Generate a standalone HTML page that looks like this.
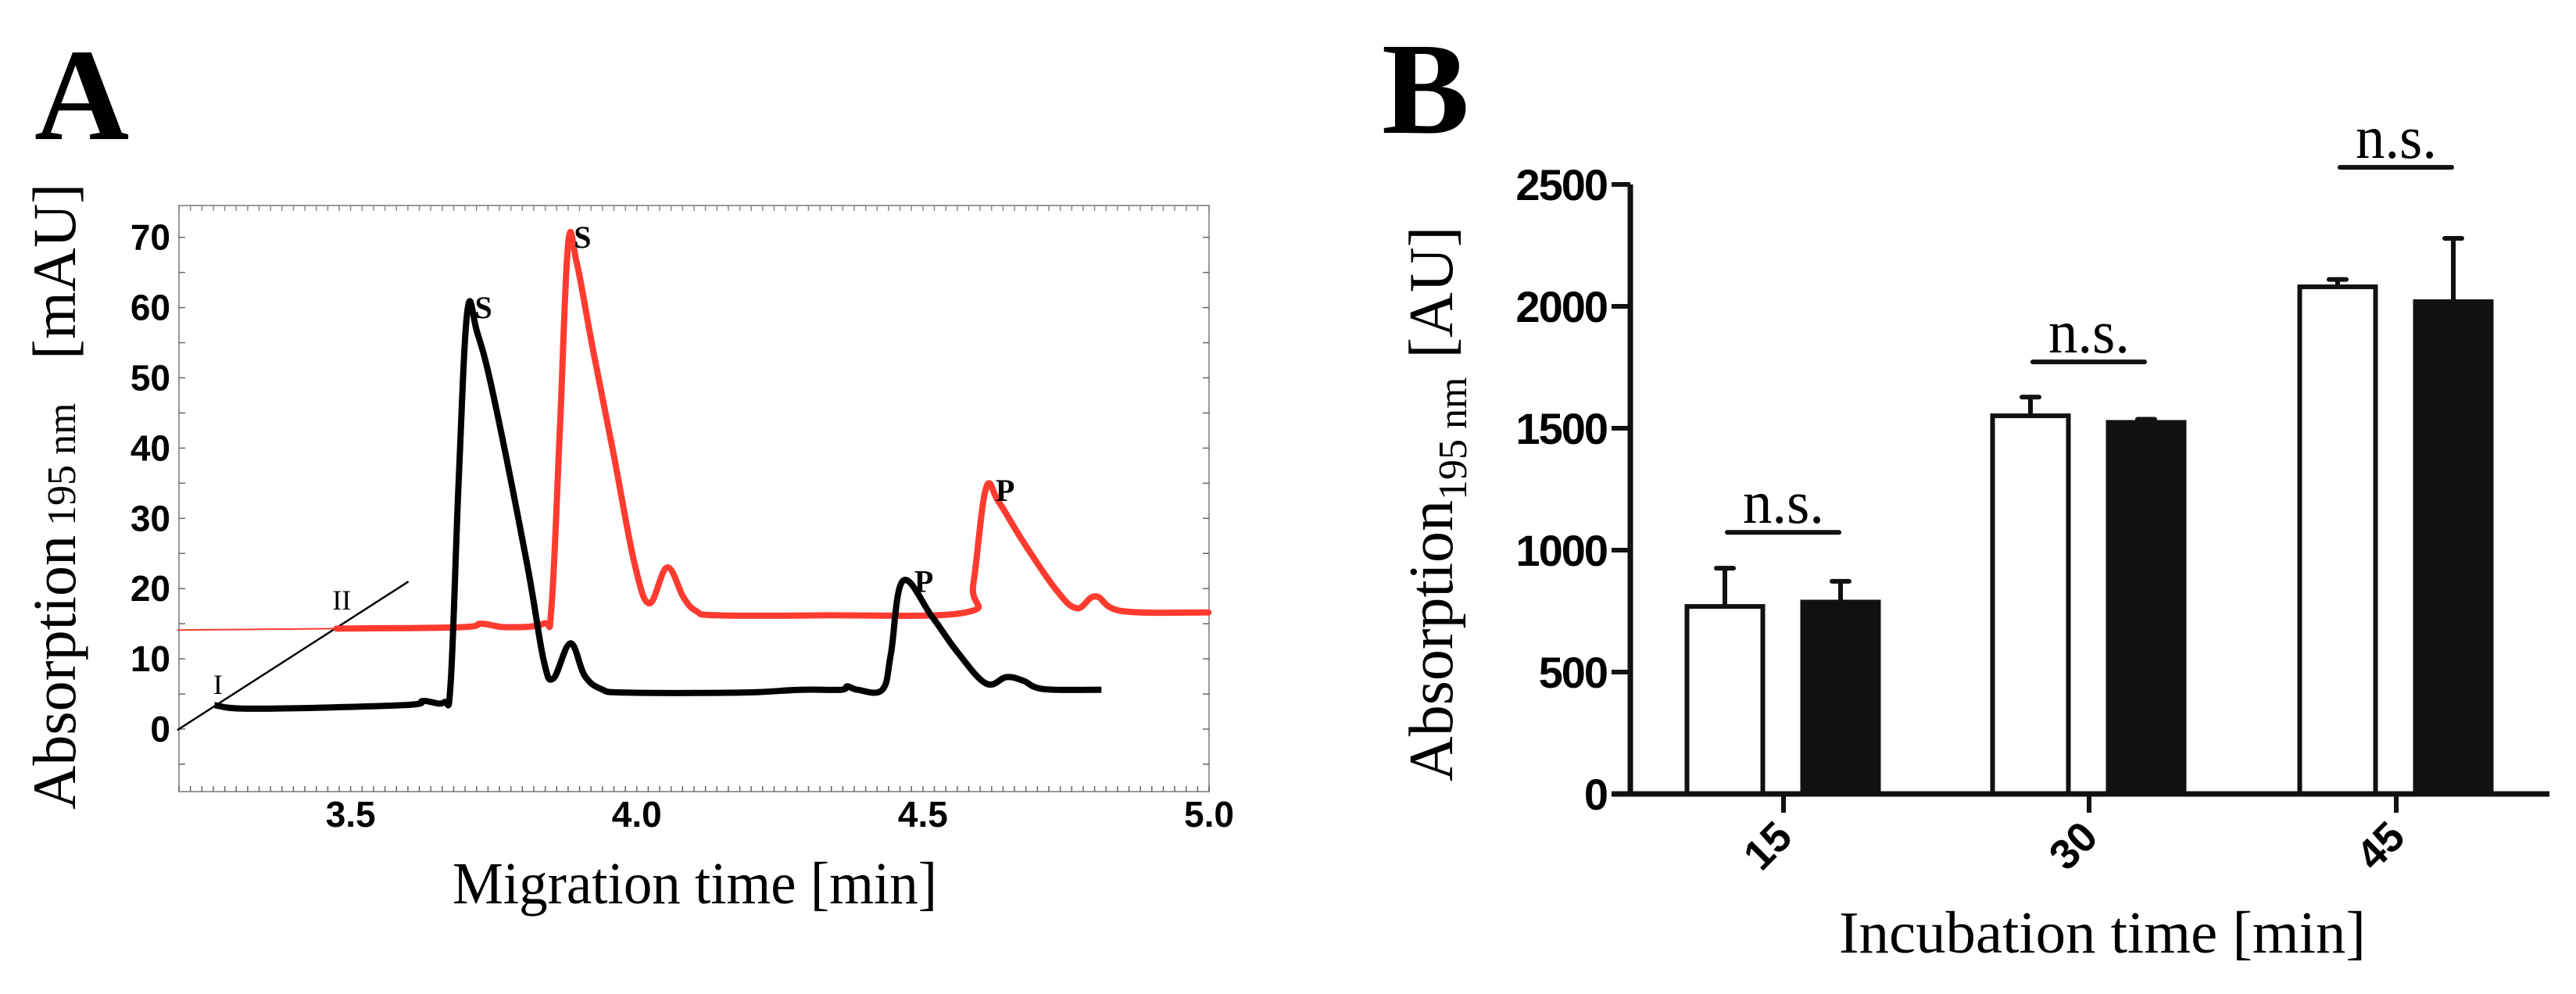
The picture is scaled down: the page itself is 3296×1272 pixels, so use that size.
<!DOCTYPE html>
<html><head><meta charset="utf-8"><style>
html,body{margin:0;padding:0;background:#fff;}
svg{display:block;}
</style></head><body>
<svg id="fig" width="3296" height="1272" viewBox="0 0 3296 1272" xmlns="http://www.w3.org/2000/svg">
<rect x="0" y="0" width="3296" height="1272" fill="#fff"/>
<text x="44" y="178" font-family="Liberation Serif, serif" font-weight="bold" font-size="168">A</text>
<text x="1768" y="170" font-family="Liberation Serif, serif" font-weight="bold" font-size="168">B</text>
<g id="pa"></g>
<g id="pb"></g>
</svg>
<script>
// ---------- Panel A data ----------
const blackT = [3.262,3.331,3.591,3.627,3.663,3.675,3.689,3.704,3.721,3.75,3.808,3.837,3.854,3.884,3.909,3.938,3.981,4.184,4.285,4.357,4.368,4.386,4.429,4.444,4.465,4.516,4.559,4.61,4.646,4.675,4.711,4.812];
const blackV = [3.4,2.9,3.4,4.0,3.8,6.9,35.9,59.5,56.5,47.3,23.6,9.9,7.2,12.2,7.6,5.7,5.2,5.2,5.6,5.6,6.1,5.6,5.6,10.7,21.1,16.0,11.1,6.5,7.4,6.9,5.7,5.6];
const redT = [3.475,3.692,3.728,3.772,3.837,3.851,3.866,3.88,3.895,3.923,3.96,3.996,4.022,4.053,4.082,4.104,4.14,4.328,4.574,4.588,4.61,4.632,4.675,4.733,4.769,4.802,4.848,4.999];
const redV = [14.3,14.5,15.0,14.5,15.0,17.5,43.5,69.0,66.4,54.2,38.9,23.6,17.9,23.0,18.7,16.8,16.2,16.2,16.6,20.6,34.2,32.4,26.7,19.8,17.2,18.9,16.8,16.6];
const redLeadT = [3.197,3.475];
const redLeadV = [14.1,14.3];
const diagT = [3.197,3.601];
const diagV = [-0.15,21];
const aXTicks = [3.5,4.0,4.5,5.0];
const aXTickLabels = ["3.5","4.0","4.5","5.0"];
const aYTicks = [0,10,20,30,40,50,60,70];
const peakLabels = ["S","S","P","P","I","II"];
const peakLabelT = [3.717,3.89,4.485,4.627,3.26,3.468];
const peakLabelV = [58.5,68.5,19.5,32.5,5,17];

// ---------- Panel B data ----------
const bCategories = ["15","30","45"];
const whiteVals = [769,1551,2080];
const whiteErr = [157,77,30];
const blackVals = [787,1524,2019];
const blackErr = [85,13,260];
const bYTicks = [0,500,1000,1500,2000,2500];
const nsLevels = [1073,1772,2570];

const NS="http://www.w3.org/2000/svg";
function mk(parent,tag,attrs,text){const e=document.createElementNS(NS,tag);for(const k in attrs)e.setAttribute(k,attrs[k]);if(text!==undefined)e.textContent=text;parent.appendChild(e);return e;}

// ---- Panel A ----
const pa=document.getElementById('pa');
const AL=229,AR=1547,AT=263,AB=1013;
const xA=t=>AL+(t-3.2)*(AR-AL)/1.8;
const yA=v=>933-v*8.99;
let fr=mk(pa,'rect',{x:AL,y:AT,width:AR-AL,height:AB-AT,fill:'#fff',stroke:'#999','stroke-width':2});


for(let t=3.2;t<=5.0001;t+=0.02){
  const x=xA(t);
  const l=mk(pa,'line',{x1:x,y1:AB,x2:x,y2:AB-7,stroke:'#666','stroke-width':1.5});
  
  
  const l2=mk(pa,'line',{x1:x,y1:AT,x2:x,y2:AT+7,stroke:'#888','stroke-width':1.5});
  
  
}
for(let v=-5;v<=74;v+=5){
  const y=yA(v);
  const l=mk(pa,'line',{x1:AL,y1:y,x2:AL+8,y2:y,stroke:'#666','stroke-width':1.5});
  
  
  const l2=mk(pa,'line',{x1:AR,y1:y,x2:AR-8,y2:y,stroke:'#666','stroke-width':1.5});
  
  
}
aXTicks.forEach((t,i)=>{
  const tx=mk(pa,'text',{x:xA(t),y:1058,'text-anchor':'middle','font-family':'Liberation Sans Narrow, Liberation Sans, sans-serif','font-weight':'bold','font-size':46},aXTickLabels[i]);
  
  
});
aYTicks.forEach(v=>{
  const tx=mk(pa,'text',{x:218,y:yA(v)+16,'text-anchor':'end','font-family':'Liberation Sans Narrow, Liberation Sans, sans-serif','font-weight':'bold','font-size':46},String(v));
  
  
});
function pts(T,V){return T.map((t,i)=>xA(t).toFixed(1)+','+yA(V[i]).toFixed(1)).join(' ');}
function smooth(T,V){
  const P=T.map((t,i)=>[xA(t),yA(V[i])]);
  let s='M'+P[0][0].toFixed(1)+','+P[0][1].toFixed(1);
  for(let i=0;i<P.length-1;i++){
    const p0=P[Math.max(0,i-1)],p1=P[i],p2=P[i+1],p3=P[Math.min(P.length-1,i+2)];
    const k=0.18;
    const c1=[p1[0]+(p2[0]-p0[0])*k,p1[1]+(p2[1]-p0[1])*k];
    const c2=[p2[0]-(p3[0]-p1[0])*k,p2[1]-(p3[1]-p1[1])*k];
    s+=' C'+c1[0].toFixed(1)+','+c1[1].toFixed(1)+' '+c2[0].toFixed(1)+','+c2[1].toFixed(1)+' '+p2[0].toFixed(1)+','+p2[1].toFixed(1);
  }
  return s;
}
let d=mk(pa,'polyline',{points:pts(diagT,diagV),fill:'none',stroke:'#000','stroke-width':2.5});


let rl=mk(pa,'polyline',{points:pts(redLeadT,redLeadV),fill:'none',stroke:'#ff3b30','stroke-width':2});


let rc=mk(pa,'path',{d:smooth(redT,redV),fill:'none',stroke:'#ff3b30','stroke-width':8,'stroke-linejoin':'round','stroke-linecap':'round'});


let bc=mk(pa,'path',{d:smooth(blackT,blackV),fill:'none',stroke:'#000','stroke-width':8,'stroke-linejoin':'round','stroke-linecap':'butt'});


peakLabels.forEach((s,i)=>{
  const tx=mk(pa,'text',{x:xA(peakLabelT[i]),y:yA(peakLabelV[i]),'font-family':'Liberation Serif, serif','font-weight':(i<4?'bold':'normal'),'font-size':(i<4?40:36)},s);
  
  
});
let xt=mk(pa,'text',{x:889,y:1156,'text-anchor':'middle','font-family':'Liberation Serif, serif','font-size':76,'textLength':620,'lengthAdjust':'spacingAndGlyphs'},'Migration time [min]');


let yt=mk(pa,'text',{transform:'translate(96,1036) rotate(-90)','font-family':'Liberation Serif, serif','font-size':78});


mk(yt,'tspan',{},'Absorption');
mk(yt,'tspan',{dx:12,'font-size':52},'195 nm');
mk(yt,'tspan',{x:576},'[mAU]');

// ---- Panel B ----
const pb=document.getElementById('pb');
const BX0=2086,BX1=3262,BY0=1016;
const yB=v=>BY0-v*0.312;
const catX=[2282,2673,3066];
const bw=97;
bCategories.forEach((c,i)=>{
  const cx=catX[i];
  const wx=cx-75-bw/2, wy=yB(whiteVals[i]);
  const we=mk(pb,'line',{x1:cx-75,y1:wy,x2:cx-75,y2:yB(whiteVals[i]+whiteErr[i]),stroke:'#111','stroke-width':6});
  
  
  const wc=mk(pb,'line',{x1:cx-75-11,y1:yB(whiteVals[i]+whiteErr[i]),x2:cx-75+11,y2:yB(whiteVals[i]+whiteErr[i]),stroke:'#111','stroke-width':6,'stroke-linecap':'round'});
  
  
  const wr=mk(pb,'rect',{x:wx,y:wy,width:bw,height:BY0-wy,fill:'#fff',stroke:'#111','stroke-width':6});
  
  
  const bx=cx+73-bw/2, by=yB(blackVals[i]);
  const be=mk(pb,'line',{x1:cx+73,y1:by,x2:cx+73,y2:yB(blackVals[i]+blackErr[i]),stroke:'#111','stroke-width':6});
  
  
  const bcap=mk(pb,'line',{x1:cx+73-11,y1:yB(blackVals[i]+blackErr[i]),x2:cx+73+11,y2:yB(blackVals[i]+blackErr[i]),stroke:'#111','stroke-width':6,'stroke-linecap':'round'});
  
  
  const br=mk(pb,'rect',{x:bx,y:by,width:bw,height:BY0-by,fill:'#111',stroke:'#111','stroke-width':6});
  
  
  const tk=mk(pb,'line',{x1:cx,y1:BY0,x2:cx,y2:BY0+24,stroke:'#111','stroke-width':6});
  
  
  const tl=mk(pb,'text',{transform:`translate(${cx+14},${BY0+58}) rotate(-45)`,'text-anchor':'end','font-family':'Liberation Sans, sans-serif','font-weight':'bold','font-size':54},c);
  
  
  const ny=yB(nsLevels[i]);
  const nl=mk(pb,'line',{x1:cx-72,y1:ny,x2:cx+71,y2:ny,stroke:'#111','stroke-width':6,'stroke-linecap':'round'});
  
  
  const nt=mk(pb,'text',{x:cx,y:ny-12,'text-anchor':'middle','font-family':'Liberation Serif, serif','font-size':78,'textLength':104,'lengthAdjust':'spacingAndGlyphs'},'n.s.');
  
  
});
let ya=mk(pb,'line',{x1:BX0,y1:yB(2500),x2:BX0,y2:BY0+3,stroke:'#111','stroke-width':7});


let xa=mk(pb,'line',{x1:2062,y1:BY0,x2:BX1,y2:BY0,stroke:'#111','stroke-width':7});


bYTicks.forEach(v=>{
  const y=yB(v);
  const l=mk(pb,'line',{x1:2062,y1:y,x2:BX0,y2:y,stroke:'#111','stroke-width':6});
  
  
  const t=mk(pb,'text',{x:2056,y:y+20,'text-anchor':'end','font-family':'Liberation Sans, sans-serif','font-weight':'bold','font-size':56,'letter-spacing':'-2'},String(v));
  
  
});
let bxt=mk(pb,'text',{x:2690,y:1219,'text-anchor':'middle','font-family':'Liberation Serif, serif','font-size':76,'textLength':674,'lengthAdjust':'spacingAndGlyphs'},'Incubation time [min]');


let byt=mk(pb,'text',{transform:'translate(1858,1000) rotate(-90)','font-family':'Liberation Serif, serif','font-size':80});


mk(byt,'tspan',{},'Absorption');
mk(byt,'tspan',{dy:18,'font-size':52},'195 nm');
mk(byt,'tspan',{dy:-18,dx:24},'[AU]');
</script>
</body></html>
